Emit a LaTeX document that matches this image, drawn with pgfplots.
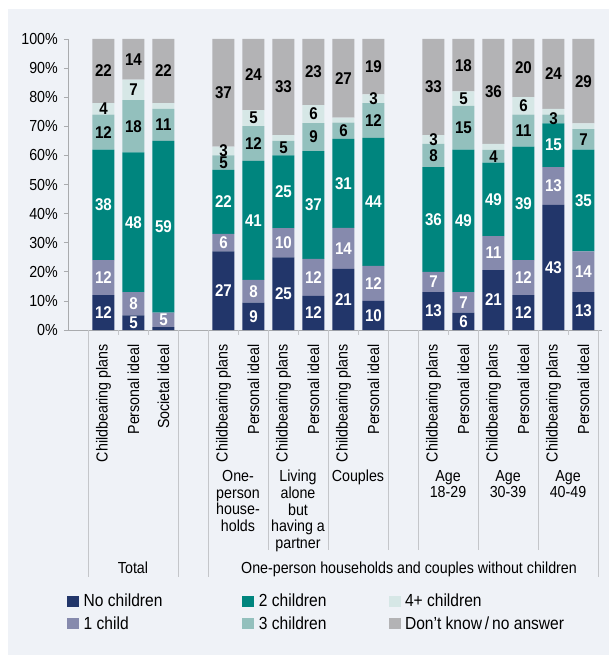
\documentclass[border=0pt]{standalone}
\usepackage{fontspec}
\setmainfont{Liberation Sans}[FakeStretch=0.89]
\usepackage{pgfplots}
\usepackage{pgfplotstable}
\pgfplotsset{compat=1.18}
\definecolor{cNo}{HTML}{22366A}
\definecolor{cOne}{HTML}{868AAD}
\definecolor{cTwo}{HTML}{00857E}
\definecolor{cThree}{HTML}{93C0BD}
\definecolor{cFour}{HTML}{D6E7E6}
\definecolor{cDK}{HTML}{B3B3B5}
\definecolor{panel}{HTML}{EFF2F7}
\definecolor{sepgray}{HTML}{C4C6CA}
\definecolor{axisgray}{HTML}{A9ABAE}

\pgfplotstableread{
x  no   one  two  three four dk   noL oneL twoL threeL fourL dkL
0  12   12   38   12    4    22   12  12   38   12     4     22
1  5    8    48   18    7    14   5   8    48   18     7     14
2  1    5    59   11    2    22   {}  5    59   11     {}    22
4  27   6    22   5     3    37   27  6    22   5      3     37
5  9.4  7.8  40.9 12    5.5  24.4 9   8    41   12     5     24
6  25   10   25   5     2    33   25  10   25   5      {}    33
7  11.7 12.7 37.1 9.6   6.2  22.7 12  12   37   9      6     23
8  21   14.1 30.6 5.6   1.7  27   21  14   31   6      {}    27
9  10   12   44   12    3    19   10  12   44   12     3     19
11 13   7    36   8     3    33   13  7    36   8      3     33
12 6    7    49   15    5    18   6   7    49   15     5     18
13 20.6 11.7 25.2 4.4   2.1  36   21  11   49   4      {}    36
14 12   12   39   11    6    20   12  12   39   11     6     20
15 43   13   15   3     2    24   43  13   15   3      {}    24
16 13   14   35   7     2    29   13  14   35   7      {}    29
}\data
% label positions: middle of each segment
\pgfplotstablecreatecol[create col/expr={\thisrow{no}/2}]{mNo}\data
\pgfplotstablecreatecol[create col/expr={\thisrow{no}+\thisrow{one}/2}]{mOne}\data
\pgfplotstablecreatecol[create col/expr={\thisrow{no}+\thisrow{one}+\thisrow{two}/2}]{mTwo}\data
\pgfplotstablecreatecol[create col/expr={\thisrow{no}+\thisrow{one}+\thisrow{two}+\thisrow{three}/2}]{mThree}\data
\pgfplotstablecreatecol[create col/expr={\thisrow{no}+\thisrow{one}+\thisrow{two}+\thisrow{three}+\thisrow{four}/2}]{mFour}\data
\pgfplotstablecreatecol[create col/expr={\thisrow{no}+\thisrow{one}+\thisrow{two}+\thisrow{three}+\thisrow{four}+\thisrow{dk}/2}]{mDK}\data

\pgfplotsset{
  geom/.style={at={(0,0)}, anchor=south west,
    x=30pt, y=2.91pt,
    xmin=-1.183, xmax=16.62, ymin=0, ymax=100,
    enlargelimits=false, clip=false},
}

\begin{document}
\begin{tikzpicture}[x=1pt,y=1pt]
\useasboundingbox (-68,-325) rectangle (541,330);
\fill[panel] (-60,-325) rectangle (541,321);
\begin{axis}[
  geom,
  ybar stacked, bar width=22pt,
  axis lines*=left,
  axis line style={axisgray, line width=0.8pt},
  tick align=outside,
  major tick length=4pt,
  ytick={0,10,...,100},
  yticklabels={0\%,10\%,20\%,30\%,40\%,50\%,60\%,70\%,80\%,90\%,100\%},
  ytick style={axisgray, line width=0.8pt},
  yticklabel style={font=\fontsize{16}{16}\selectfont, inner sep=0pt, xshift=-6pt},
  xtick={0,1,2,4,5,6,7,8,9,11,12,13,14,15,16},
  xticklabels={Childbearing plans,Personal ideal,Societal ideal,
    Childbearing plans,Personal ideal,Childbearing plans,Personal ideal,
    Childbearing plans,Personal ideal,Childbearing plans,Personal ideal,
    Childbearing plans,Personal ideal,Childbearing plans,Personal ideal},
  xtick style={draw=none},
  xticklabel style={yshift=-10pt, rotate=90, anchor=east, inner sep=0pt,
    font=\fontsize{16}{16}\selectfont},
  legend columns=2,
  transpose legend,
  legend cell align=left,
  legend image code/.code={\fill[#1,draw=none] (0pt,-5.5pt) rectangle (12pt,5.5pt);},
  legend style={draw=none, fill=none, at={(0,0)}, anchor=north west,
    xshift=-1pt, yshift=-262pt, inner sep=0pt,
    font=\fontsize{17.5}{17.5}\selectfont, row sep=4pt,
    /tikz/column 1/.style={column sep=2.5pt},
    /tikz/column 3/.style={column sep=2.5pt},
    /tikz/column 5/.style={column sep=2.5pt},
    /tikz/column 2/.style={column sep=78pt},
    /tikz/column 4/.style={column sep=60pt}},
]
\addplot[fill=cNo, draw=none] table[x=x, y=no]{\data};
\addlegendentry{No children}
\addplot[fill=cOne, draw=none] table[x=x, y=one]{\data};
\addlegendentry{1 child}
\addplot[fill=cTwo, draw=none] table[x=x, y=two]{\data};
\addlegendentry{2 children}
\addplot[fill=cThree, draw=none] table[x=x, y=three]{\data};
\addlegendentry{3 children}
\addplot[fill=cFour, draw=none] table[x=x, y=four]{\data};
\addlegendentry{4+ children}
\addplot[fill=cDK, draw=none] table[x=x, y=dk]{\data};
\addlegendentry{Don’t know\,/\,no answer}

\pgfplotsinvokeforeach{-0.5,2.5,3.5,16.5}{
  \draw[sepgray, line width=0.8pt] (axis cs:#1,0) -- ++(0pt,-247pt);}
\pgfplotsinvokeforeach{5.5,7.5,9.5,10.5,12.5,14.5}{
  \draw[sepgray, line width=0.8pt] (axis cs:#1,0) -- ++(0pt,-220pt);}
\pgfplotsinvokeforeach{0.5,1.5,4.5,6.5,8.5,11.5,13.5,15.5}{
  \draw[sepgray, line width=0.8pt] (axis cs:#1,0) -- ++(0pt,-5pt);}
\end{axis}

% value labels
\begin{axis}[
  geom, hide axis,
  point meta=explicit symbolic,
  nodes near coords,
  every node near coord/.append style={font=\fontsize{17}{17}\selectfont\bfseries,
    inner sep=0pt, anchor=center},
]
\addplot[draw=none, mark=none, nodes near coords style={white}] table[x=x, y=mNo, meta=noL]{\data};
\addplot[draw=none, mark=none, nodes near coords style={white}] table[x=x, y=mOne, meta=oneL]{\data};
\addplot[draw=none, mark=none, nodes near coords style={white}] table[x=x, y=mTwo, meta=twoL]{\data};
\addplot[draw=none, mark=none, nodes near coords style={black}] table[x=x, y=mThree, meta=threeL]{\data};
\addplot[draw=none, mark=none, nodes near coords style={black}] table[x=x, y=mFour, meta=fourL]{\data};
\addplot[draw=none, mark=none, nodes near coords style={black}] table[x=x, y=mDK, meta=dkL]{\data};
\end{axis}

\begin{scope}[every node/.style={font=\fontsize{16}{16.7}\selectfont, align=center, inner sep=0pt, anchor=north}]
\node at (170,-140) {One-\\person\\house-\\holds};
\node at (230,-140) {Living\\alone\\but\\having a\\partner};
\node at (290,-140) {Couples};
\node at (380,-140) {Age\\18-29};
\node at (440,-140) {Age\\30-39};
\node at (500,-140) {Age\\40-49};
\node[anchor=base] at (65,-243) {Total};
\node[anchor=base] at (341,-243) {One-person households and couples without children};
\end{scope}
\end{tikzpicture}
\end{document}
